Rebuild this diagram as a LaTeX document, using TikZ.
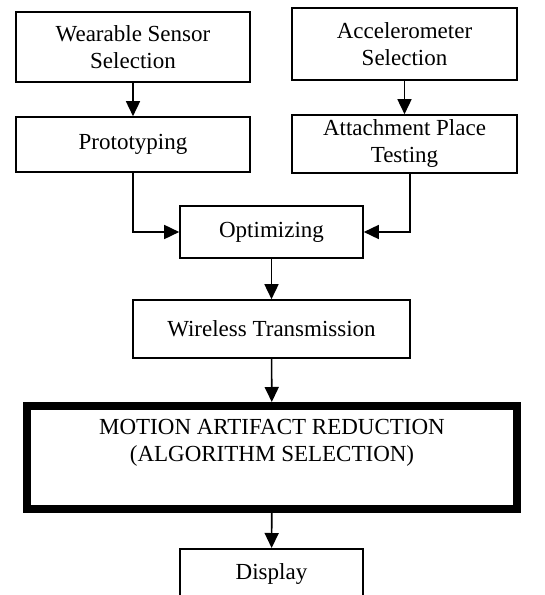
\documentclass[tikz,border=0pt]{standalone}
\usepackage{fontspec}
\setmainfont{Liberation Serif}
\usetikzlibrary{arrows.meta}
\begin{document}
\begin{tikzpicture}[x=1bp,y=-1bp,
  every node/.style={font=\fontsize{23bp}{27bp}\selectfont},
  stepbox/.style={draw, line width=1.6bp, rectangle, inner sep=0pt, align=center},
  flow/.style={line width=1.6bp, -{Triangle[length=15bp,width=14bp]}}]
  \useasboundingbox (0,0) rectangle (545,595);
  \clip (0,0) rectangle (545,595);

  % sensor branch
  \node[stepbox, minimum width=234bp, minimum height=70bp] (wear) at (133,47)
    {Wearable Sensor\\Selection};
  \node[stepbox, minimum width=234bp, minimum height=55bp] (proto) at (133,144.5)
    {Prototyping};

  % accelerometer branch
  \node[stepbox, minimum width=225bp, minimum height=72bp] (accel) at (404.5,44)
    {Accelerometer\\Selection};
  \node[stepbox, minimum width=225bp, minimum height=58bp] (attach) at (404.5,144)
    {Attachment Place\\Testing};

  % main chain
  \node[stepbox, minimum width=183bp, minimum height=52bp] (opt) at (271.5,232)
    {Optimizing};
  \node[stepbox, minimum width=277bp, minimum height=58bp] (wireless) at (271.5,329)
    {Wireless Transmission};
  \node[stepbox, line width=8bp, minimum width=490bp, minimum height=103bp] (motion) at (272,457.5)
    {MOTION ARTIFACT REDUCTION\\(ALGORITHM SELECTION)\\\strut};
  \node[stepbox, minimum width=183bp, minimum height=50bp, anchor=north] (display) at (271.5,548)
    {Display};

  % connectors
  \draw[flow] (wear) -- (proto);
  \draw[flow] (accel) -- (attach);
  \draw[flow] (proto.south) |- (opt.west);
  \draw[flow] ([xshift=5.5bp]attach.south) |- (opt.east);
  \draw[flow] (opt) -- (wireless);
  \draw[flow] (wireless) -- (motion);
  \draw[flow] (motion) -- (display);
\end{tikzpicture}
\end{document}
